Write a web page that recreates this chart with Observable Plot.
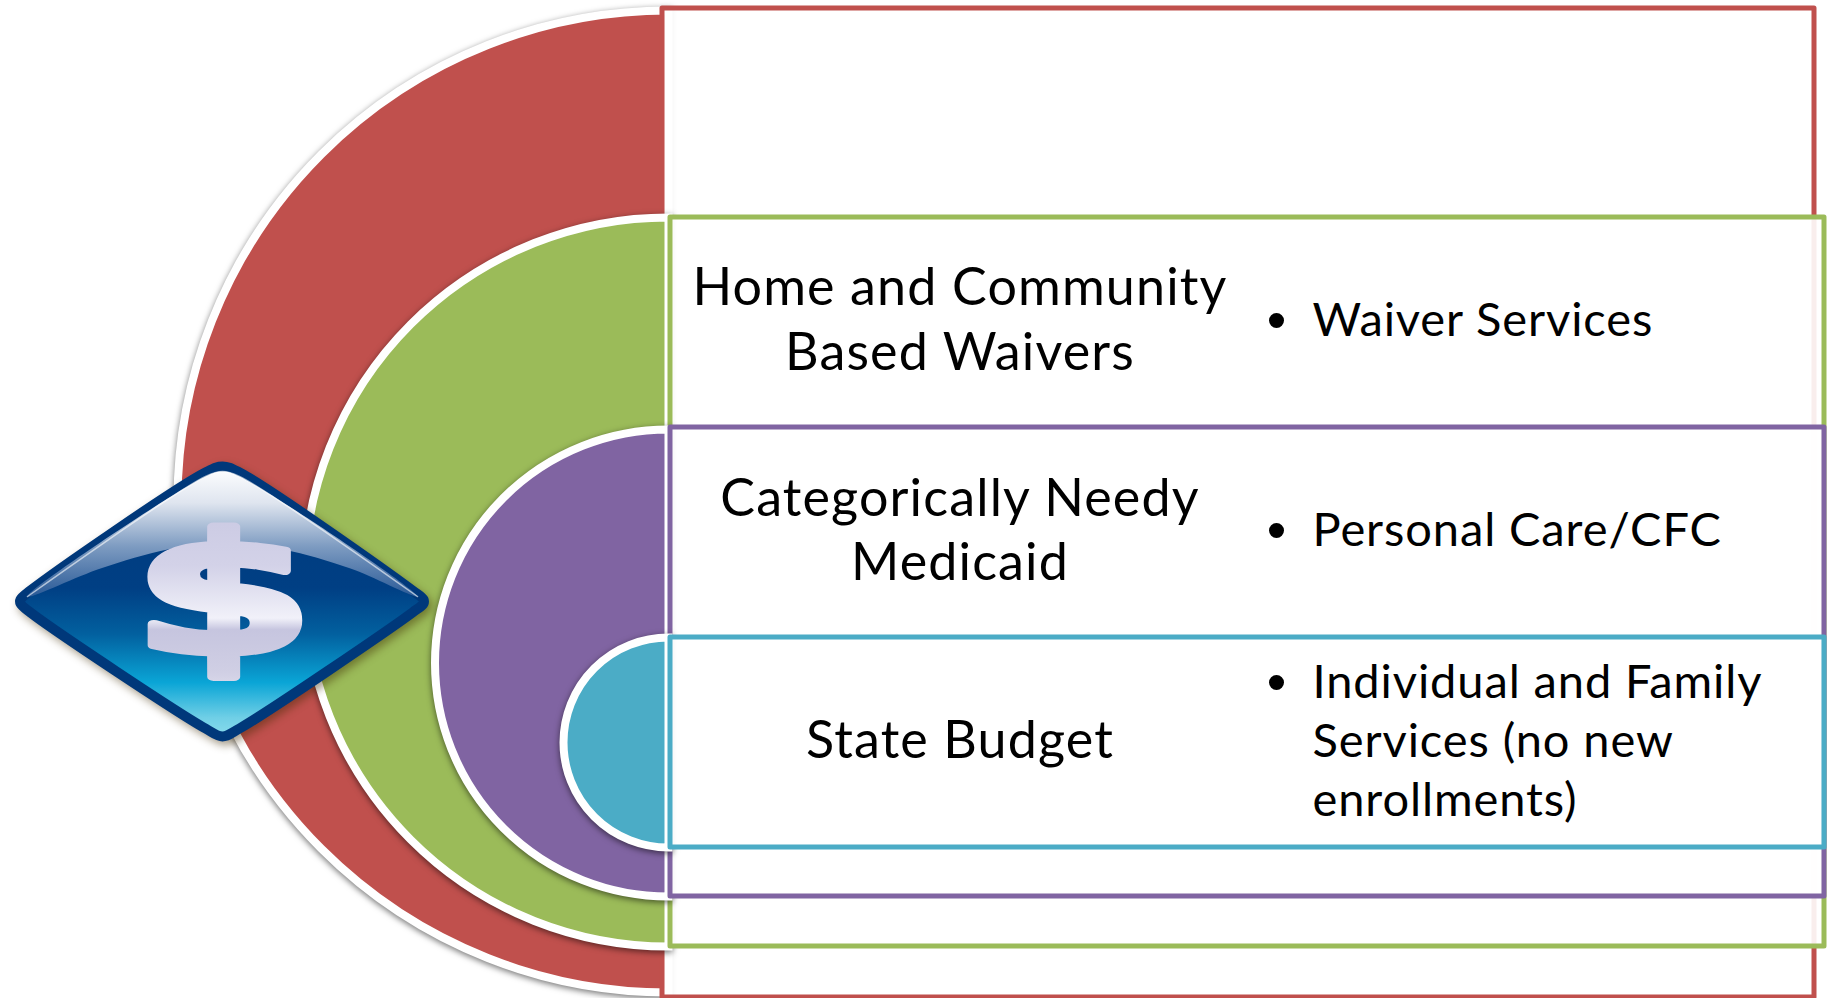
<!DOCTYPE html>
<html><head><meta charset="utf-8">
<script src="https://cdn.jsdelivr.net/npm/d3@7"></script>
<script src="https://cdn.jsdelivr.net/npm/@observablehq/plot@0.6"></script>
<style>html,body{margin:0;padding:0;background:#fff}svg{display:block}
.ttl text{letter-spacing:1.15px}.itm text{letter-spacing:.9px}</style>
</head><body><div id="chart"></div>
<script>
const layerNames = ["Outer", "Waivers", "Medicaid", "Budget"];
const layerColors = ["#c0504d", "#9bbb59", "#8064a2", "#4bacc6"];
const boxLeft = [662, 670, 670, 670];
const boxRight = [1814, 1824, 1824, 1824];
const boxTop = [8, 217, 427, 637];
const boxBottom = [997, 946, 896, 847];
const discX = [668, 668, 668, 668];
const discY = [501, 581.5, 662.5, 742];
const discR = [491, 364.5, 233.5, 105];

const titleLines = ["Home and Community", "Based Waivers", "Categorically Needy", "Medicaid", "State Budget"];
const titleY = [288, 353, 498.5, 563, 741];
const itemLines = ["Waiver Services", "Personal Care/CFC", "Individual and Family", "Services (no new", "enrollments)"];
const itemY = [320, 530, 682, 741, 800];
const bulletY = [320, 530, 682];

const diamondX = [30,205,222,239,412,423,423,412,239,222,205,30,20,20];
const diamondY = [590,472,466,472,590,599,603,612,728,736,728,612,603,599];
const glossX = [27,205,222,239,417,350,283,222,167,100];
const glossY = [596,476,471,476,596,568,549,542,549,568];

const halfDisc = {draw(c, size){const r=Math.sqrt(size/Math.PI);c.moveTo(0,-r);c.arc(0,0,r,-Math.PI/2,Math.PI/2,true);c.closePath();}};
const pts = (xs,ys)=>xs.map((x,i)=>({x,y:ys[i]}));

function defs(){
  const d=d3.create("svg:defs");
  const g=(id,stops)=>{const l=d.append("linearGradient").attr("id",id).attr("x1",0).attr("y1",0).attr("x2",0).attr("y2",1);
    stops.forEach(([o,c])=>l.append("stop").attr("offset",o).attr("stop-color",c));};
  g("dia",[[0,"#003a7c"],[.45,"#003f84"],[.62,"#02609f"],[.8,"#0aa5d6"],[.93,"#6fcfe6"],[1,"#8adcec"]]);
  g("gloss",[[0,"#fbfcfe"],[.25,"#dfe5ef"],[.6,"#7d9bc1"],[1,"#2a5a97"]]);
  g("usd",[[0,"#c9c8e2"],[.35,"#d3d2e8"],[.62,"#f1f1f9"],[.68,"#c6c5df"],[.9,"#d0cfe4"],[1,"#dddcec"]]);
  return d.node();
}
const widen = k => (i,s,v,d,c,next)=>{const g=next(i,s,v,d,c);g.querySelectorAll("text").forEach(t=>t.setAttribute("transform",(t.getAttribute("transform")||"")+` scale(${k},1)`));return g;};

const layerMarks = layerNames.flatMap((n,i)=>[
  Plot.dot([n],{x:()=>discX[i],y:()=>discY[i],r:discR[i],symbol:halfDisc,fill:layerColors[i],stroke:"#fff",strokeWidth:8,imageFilter:"drop-shadow(0px 2px 3px rgba(0,0,0,.55))"}),
  Plot.rect([n],{x1:()=>boxLeft[i],x2:()=>boxRight[i],y1:()=>boxTop[i],y2:()=>boxBottom[i],fill:"#fff",fillOpacity:.9,stroke:layerColors[i],strokeWidth:5,strokeLinejoin:"round",inset:0})
]);

const titleXs = titleLines.map(()=>959.5);
const itemXs = itemLines.map(()=>1312);
const font = "Lato, Carlito, sans-serif";

const plot = Plot.plot({
  width:1828,height:998,margin:0,
  x:{domain:[0,1828],axis:null},
  y:{domain:[998,0],axis:null},
  style:{background:"#fff"},
  marks:[
    defs,
    ...layerMarks,
    Plot.line(pts(diamondX,diamondY),{x:"x",y:"y",curve:"catmull-rom-closed",fill:"url(#dia)",stroke:"#00387a",strokeWidth:10,strokeLinejoin:"round",imageFilter:"drop-shadow(3px 4px 4px rgba(60,40,0,.45))"}),
    Plot.line(pts(glossX,glossY),{x:"x",y:"y",curve:"catmull-rom-closed",fill:"url(#gloss)",stroke:"none"}),
    Plot.line(pts(glossX.slice(0,5),glossY.slice(0,5)),{x:"x",y:"y",curve:"catmull-rom",stroke:"#fff",strokeWidth:1.5,strokeOpacity:.6}),
    Plot.text(["$"],{x:()=>223,y:()=>599,fontFamily:"DejaVu Sans",fontWeight:"bold",fontSize:166,fill:"url(#usd)",stroke:"url(#usd)",strokeWidth:8,strokeLinejoin:"round",render:widen(1.56)}),
    Plot.text(titleLines,{x:titleXs,y:titleY,text:d=>d,className:"ttl",fontFamily:font,fontSize:52,textAnchor:"middle",fill:"#000"}),
    Plot.text(itemLines,{x:itemXs,y:itemY,text:d=>d,className:"itm",fontFamily:font,fontSize:47,textAnchor:"start",fill:"#000"}),
    Plot.dot(bulletY,{x:()=>1276,y:d=>d,r:7.5,fill:"#000"})
  ]
});
document.getElementById("chart").append(plot);
</script></body></html>
